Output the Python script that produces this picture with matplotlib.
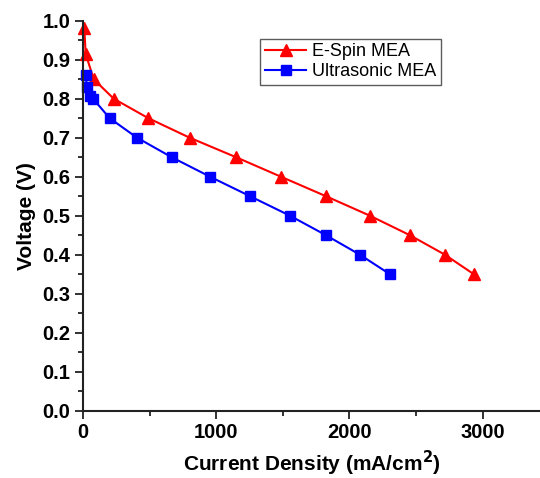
import matplotlib
matplotlib.use("Agg")
import matplotlib.pyplot as plt
from matplotlib.ticker import MultipleLocator

espin_current = [10, 20, 80, 230, 490, 800, 1148, 1485, 1823, 2153, 2453, 2716, 2933]
espin_voltage = [0.98, 0.915, 0.85, 0.80, 0.75, 0.70, 0.65, 0.60, 0.55, 0.50, 0.45, 0.40, 0.35]
ultra_current = [20, 30, 55, 75, 200, 405, 665, 953, 1253, 1553, 1823, 2078, 2303]
ultra_voltage = [0.86, 0.83, 0.807, 0.80, 0.75, 0.70, 0.65, 0.60, 0.55, 0.50, 0.45, 0.40, 0.35]
x_ticks = [0, 1000, 2000, 3000]
y_ticks = [0.0, 0.1, 0.2, 0.3, 0.4, 0.5, 0.6, 0.7, 0.8, 0.9, 1.0]

plt.rcParams['font.family'] = ['Liberation Sans', 'DejaVu Sans']

fig = plt.figure(figsize=(5.4, 4.78), dpi=100)
ax = fig.add_axes([0.1537, 0.1408, 0.8463, 0.816])

ax.plot(espin_current, espin_voltage, color='#ff0000', marker='^', markersize=8.5,
        linewidth=1.5, label='E-Spin MEA', clip_on=False)
ax.plot(ultra_current, ultra_voltage, color='#0000ff', marker='s', markersize=6.5,
        linewidth=1.5, label='Ultrasonic MEA', clip_on=False)

ax.set_xlim(0, 3430)
ax.set_ylim(0, 1.0)
ax.set_xticks(x_ticks)
ax.set_yticks(y_ticks)
ax.set_yticklabels([f"{v:.1f}" for v in y_ticks])
ax.xaxis.set_minor_locator(MultipleLocator(500))
ax.yaxis.set_minor_locator(MultipleLocator(0.05))

for s in ['top', 'right']:
    ax.spines[s].set_visible(False)
for s in ['left', 'bottom']:
    ax.spines[s].set_linewidth(1.5)
    ax.spines[s].set_color('#222222')

ax.tick_params(which='major', direction='out', length=6, width=1.3, labelsize=14.5,
               colors='#222222', pad=3)
ax.tick_params(which='minor', direction='out', length=3.5, width=1.3, colors='#222222')
for lab in ax.get_xticklabels() + ax.get_yticklabels():
    lab.set_fontweight('bold')
    lab.set_color('black')

ax.set_xlabel('Current Density (mA/cm$^\\mathbf{2}$)', fontsize=15, fontweight='bold', labelpad=5)
ax.set_ylabel('Voltage (V)', fontsize=15, fontweight='bold', labelpad=5)

leg = ax.legend(loc='upper left', bbox_to_anchor=(0.388, 0.953), fontsize=13,
                frameon=True, fancybox=False, edgecolor='#333333', borderpad=0.25,
                handlelength=2.3, handletextpad=0.3, labelspacing=0.15, borderaxespad=0)
leg.get_frame().set_linewidth(1.0)

fig.savefig('out.png', dpi=100)
